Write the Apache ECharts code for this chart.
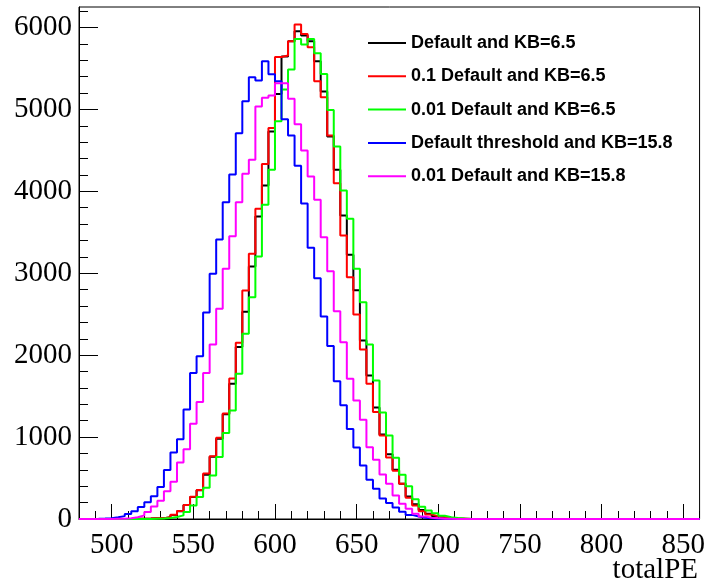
<!DOCTYPE html>
<html>
<head>
<meta charset="utf-8">
<script src="https://cdn.jsdelivr.net/npm/echarts@6/dist/echarts.min.js"></script>
<style>
html,body{margin:0;padding:0;background:#fff;}
#c{width:708px;height:585px;}
</style>
</head>
<body>
<div id="c"></div>
<script>
// Histogram binning (totalPE)
const binStart = 480;
const binWidth = 4;

// Tick labels
const xTickLabels = [500, 550, 600, 650, 700, 750, 800, 850];
const yTickLabels = [0, 1000, 2000, 3000, 4000, 5000, 6000];

// Series names
const seriesNames = [
  'Default and KB=6.5',
  '0.1 Default and KB=6.5',
  '0.01 Default and KB=6.5',
  'Default threshold and KB=15.8',
  '0.01 Default and KB=15.8'
];

// Bin contents (95 bins from 480 to 860)
const blackVals = [
  0,0,0,0,0,0,0,0,2,3,
  5,8,10,22,50,95,170,270,350,540,
  760,980,1280,1650,2100,2530,3082,3692,4071,4730,
  5189,5645,5832,5954,5901,5832,5588,5218,4669,4262,
  3705,3225,2793,2179,1752,1360,1030,790,600,431,
  275,180,110,65,35,18,8,4,2,0,
  0,0,0,0,0,0,0,0,0,0,
  0,0,0,0,0,0,0,0,0,0,
  0,0,0,0,0,0,0,0,0,0,
  0,0,0,0,0
];
const redVals = [
  0,0,0,0,0,0,0,0,2,3,
  5,8,10,22,52,98,172,273,355,555,
  765,992,1288,1716,2150,2789,3237,3786,4335,4774,
  5640,5657,5832,6035,5921,5759,5344,5148,4681,4099,
  3460,2952,2497,2070,1651,1305,1020,752,590,431,
  260,165,95,56,32,17,8,4,2,0,
  0,0,0,0,0,0,0,0,0,0,
  0,0,0,0,0,0,0,0,0,0,
  0,0,0,0,0,0,0,0,0,0,
  0,0,0,0,0
];
const greenVals = [
  0,0,0,0,0,0,0,0,0,0,
  0,3,6,12,25,44,84,166,268,381,
  532,756,1049,1325,1773,2261,2708,3204,3835,4262,
  4856,5242,5486,5860,5791,5860,5685,5433,4994,4547,
  4010,3664,3054,2647,2131,1691,1300,1020,748,540,
  400,240,150,105,70,40,22,12,6,3,
  1,0,0,0,0,0,0,0,0,0,
  0,0,0,0,0,0,0,0,0,0,
  0,0,0,0,0,0,0,0,0,0,
  0,0,0,0,0
];
const blueVals = [
  0,0,2,5,10,22,35,60,95,146,
  205,278,390,597,812,973,1336,1783,1986,2520,
  2993,3412,3867,4205,4709,5100,5393,5352,5588,5430,
  5345,4880,4680,4313,3850,3310,2940,2472,2113,1680,
  1388,1100,872,652,480,370,250,195,140,90,
  50,30,15,8,4,2,1,0,0,0,
  0,0,0,0,0,0,0,0,0,0,
  0,0,0,0,0,0,0,0,0,0,
  0,0,0,0,0,0,0,0,0,0,
  0,0,0,0,0
];
const magentaVals = [
  0,0,0,0,0,2,4,10,22,44,
  84,154,222,338,455,690,850,1162,1427,1781,
  2130,2566,3054,3452,3867,4213,4384,5035,5141,5169,
  5319,5319,5129,4820,4498,4181,3896,3440,3025,2537,
  2159,1712,1447,1211,877,724,544,431,288,187,
  126,64,32,16,8,4,2,0,0,0,
  0,0,0,0,0,0,0,0,0,0,
  0,0,0,0,0,0,0,0,0,0,
  0,0,0,0,0,0,0,0,0,0,
  0,0,0,0,0
];

const seriesVals = [blackVals, redVals, greenVals, blueVals, magentaVals];
const seriesColors = ['#000000', '#ff0000', '#00ff00', '#0000ff', '#ff00ff'];

function toSteps(vals) {
  const pts = vals.map((v, i) => [binStart + i * binWidth, v]);
  pts.push([binStart + vals.length * binWidth, vals[vals.length - 1]]);
  return pts;
}

const xMin = binStart;
const xMax = binStart + blackVals.length * binWidth;
const yMax = 6250;

const minorX = [];
for (let v = xMin; v <= xMax; v += 10) minorX.push(v);
const minorY = [];
for (let v = 0; v <= 6200; v += 200) minorY.push(v);

const serif = '"Liberation Serif", "DejaVu Serif", serif';
const sans = '"Liberation Sans", Arial, sans-serif';
const plain = v => String(v);

const chart = echarts.init(document.getElementById('c'), null, {renderer: 'canvas'});
chart.setOption({
  animation: false,
  backgroundColor: '#ffffff',
  grid: {left: 79, right: 5, top: 7, bottom: 66, show: true, borderColor: '#000', borderWidth: 1, backgroundColor: 'transparent'},
  title: {
    text: 'totalPE', right: 10, bottom: 0, padding: 0,
    textStyle: {fontFamily: serif, fontSize: 29, fontWeight: 'normal', color: '#000'}
  },
  legend: {
    orient: 'vertical', left: 368, top: 34, padding: 0, itemGap: 15.3,
    itemWidth: 38, itemHeight: 2, icon: 'rect',
    textStyle: {fontFamily: sans, fontWeight: 'bold', fontSize: 18, lineHeight: 18, color: '#000'},
    data: seriesNames
  },
  xAxis: [
    {
      type: 'value', min: xMin, max: xMax, position: 'bottom',
      axisLine: {show: true, onZero: false, lineStyle: {color: '#000', width: 1}},
      axisTick: {show: true, inside: true, length: 8, customValues: minorX, lineStyle: {color: '#000'}},
      axisLabel: {show: false},
      splitLine: {show: false}
    },
    {
      type: 'value', min: xMin, max: xMax, position: 'bottom',
      axisLine: {show: false},
      axisTick: {show: true, inside: true, length: 15, customValues: xTickLabels, lineStyle: {color: '#000'}},
      axisLabel: {show: true, customValues: xTickLabels, formatter: plain, fontFamily: serif, fontSize: 29, color: '#000', margin: 12},
      splitLine: {show: false}
    }
  ],
  yAxis: [
    {
      type: 'value', min: 0, max: yMax, position: 'left',
      axisLine: {show: true, onZero: false, lineStyle: {color: '#000', width: 1}},
      axisTick: {show: true, inside: true, length: 9, customValues: minorY, lineStyle: {color: '#000'}},
      axisLabel: {show: false},
      splitLine: {show: false}
    },
    {
      type: 'value', min: 0, max: yMax, position: 'left',
      axisLine: {show: false},
      axisTick: {show: true, inside: true, length: 19, customValues: yTickLabels, lineStyle: {color: '#000'}},
      axisLabel: {show: true, customValues: yTickLabels, formatter: plain, fontFamily: serif, fontSize: 29, color: '#000', margin: 7},
      splitLine: {show: false}
    }
  ],
  series: seriesNames.map((name, i) => ({
    name: name,
    type: 'line',
    step: 'end',
    xAxisIndex: 0, yAxisIndex: 0,
    data: toSteps(seriesVals[i]),
    symbol: 'none',
    clip: false,
    color: seriesColors[i],
    lineStyle: {color: seriesColors[i], width: 2},
    z: 2 + i
  }))
});
</script>
</body>
</html>
